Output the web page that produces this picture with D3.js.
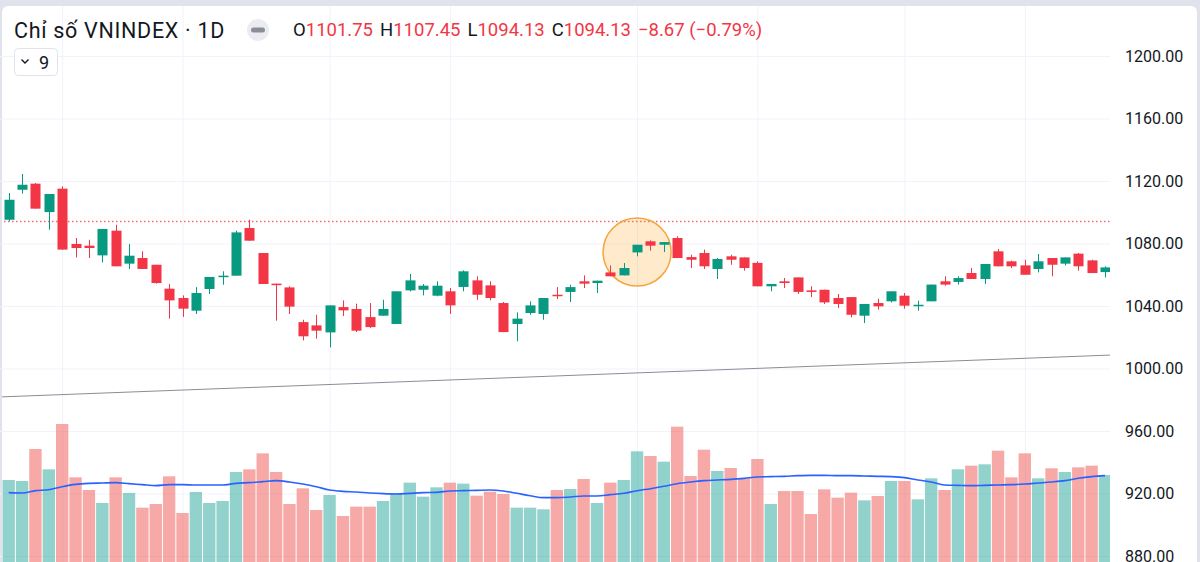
<!DOCTYPE html>
<html>
<head>
<meta charset="utf-8">
<script src="https://cdn.jsdelivr.net/npm/d3@7"></script>
<style>
  html, body { margin: 0; padding: 0; background: #e0e3eb; }
  #chart { width: 1200px; height: 562px; }
  svg text { font-family: Roboto, "Noto Sans", sans-serif; }
</style>
</head>
<body>
<div id="chart"></div>
<script>
// VNINDEX daily candles (price axis units)
const opens = [1095.2, 1114.4, 1118.3, 1100.1, 1115.1, 1079.7, 1078.6, 1072.4, 1088.2, 1067.1,
  1070.7, 1066.4, 1051.1, 1045.1, 1037.0, 1050.9, 1058.8, 1059.4, 1089.9, 1073.9,
  1054.3, 1051.9, 1029.7, 1027.6, 1023.1, 1039.3, 1038.1, 1032.9, 1033.8, 1028.5,
  1050.0, 1050.4, 1046.6, 1049.4, 1052.2, 1056.4, 1053.2, 1041.9, 1028.5, 1035.5,
  1034.9, 1047.2, 1049.0, 1055.8, 1054.7, 1061.5, 1059.6, 1074.3, 1081.4, 1079.2,
  1083.5, 1071.3, 1073.9, 1063.7, 1071.8, 1071.1, 1067.6, 1052.6, 1055.8, 1058.3,
  1050.0, 1050.4, 1045.1, 1045.7, 1033.8, 1041.9, 1043.0, 1046.6, 1040.2, 1043.0,
  1055.8, 1055.4, 1061.1, 1057.3, 1075.0, 1068.6, 1066.0, 1063.7, 1070.7, 1067.1,
  1073.5, 1069.2, 1061.7];
const highs = [1112.3, 1124.5, 1118.7, 1111.7, 1116.6, 1083.5, 1082.4, 1089.3, 1092.0, 1079.7,
  1075.0, 1066.4, 1054.1, 1046.8, 1052.1, 1058.6, 1062.2, 1088.2, 1095.2, 1073.9,
  1054.3, 1052.6, 1031.2, 1034.4, 1040.4, 1043.6, 1041.5, 1041.9, 1044.0, 1049.4,
  1060.5, 1054.1, 1055.8, 1051.5, 1062.8, 1059.0, 1055.8, 1042.6, 1035.9, 1043.0,
  1045.1, 1052.1, 1053.6, 1059.6, 1056.2, 1066.0, 1067.5, 1079.2, 1082.0, 1080.9,
  1084.6, 1072.8, 1076.1, 1070.7, 1072.8, 1071.1, 1068.6, 1054.1, 1057.9, 1058.3,
  1052.6, 1050.4, 1047.7, 1045.7, 1041.3, 1044.7, 1049.4, 1048.3, 1043.4, 1053.7,
  1059.0, 1059.0, 1064.3, 1066.9, 1076.5, 1069.0, 1069.6, 1073.3, 1070.7, 1071.1,
  1073.9, 1069.6, 1065.4];
const lows = [1094.2, 1111.9, 1102.3, 1088.8, 1076.1, 1071.1, 1070.7, 1067.9, 1065.4, 1063.7,
  1063.7, 1054.3, 1031.9, 1033.0, 1034.9, 1047.7, 1053.6, 1059.4, 1081.8, 1054.1,
  1030.6, 1034.9, 1018.0, 1019.1, 1013.5, 1033.6, 1023.3, 1026.0, 1033.8, 1028.5,
  1049.4, 1046.8, 1046.2, 1034.9, 1049.4, 1044.0, 1043.6, 1023.3, 1017.4, 1034.4,
  1031.2, 1044.5, 1042.6, 1051.5, 1048.3, 1059.0, 1059.6, 1071.8, 1075.4, 1074.5,
  1070.7, 1064.3, 1063.7, 1057.3, 1066.4, 1062.6, 1052.6, 1049.4, 1051.5, 1047.7,
  1045.7, 1041.3, 1038.7, 1032.7, 1029.1, 1037.7, 1042.3, 1038.3, 1037.0, 1043.0,
  1053.0, 1053.7, 1057.3, 1054.1, 1065.4, 1064.3, 1060.0, 1061.5, 1059.0, 1066.0,
  1062.6, 1061.1, 1058.3];
const closes = [1108.0, 1117.6, 1102.3, 1111.7, 1076.1, 1077.1, 1077.1, 1089.3, 1065.4, 1072.2,
  1063.7, 1054.7, 1043.6, 1038.3, 1048.3, 1058.6, 1059.4, 1087.1, 1081.8, 1054.1,
  1053.7, 1039.6, 1020.6, 1024.2, 1040.4, 1037.2, 1024.2, 1026.5, 1038.1, 1049.4,
  1056.4, 1053.0, 1053.0, 1040.4, 1062.2, 1047.2, 1045.1, 1023.3, 1031.9, 1040.4,
  1045.1, 1046.6, 1052.1, 1054.3, 1056.2, 1059.0, 1064.3, 1079.2, 1078.6, 1080.9,
  1070.7, 1069.6, 1065.4, 1070.1, 1069.6, 1064.3, 1052.6, 1054.1, 1054.7, 1049.0,
  1049.0, 1042.3, 1041.3, 1034.4, 1041.3, 1039.8, 1049.4, 1040.2, 1040.8, 1053.7,
  1053.7, 1057.9, 1057.3, 1066.9, 1065.4, 1065.4, 1060.0, 1068.6, 1066.4, 1071.1,
  1065.4, 1061.1, 1064.7];

// volume (million shares, estimated) and its moving average line
const volumes = [492, 486, 678, 556, 828, 508, 432, 354, 508, 414,
  326, 348, 514, 294, 420, 354, 366, 540, 556, 652,
  540, 348, 442, 312, 402, 276, 332, 332, 366, 412,
  476, 392, 448, 476, 470, 398, 422, 408, 326, 326,
  316, 432, 438, 498, 354, 476, 492, 664, 636, 602,
  812, 516, 674, 546, 564, 502, 618, 348, 426, 426,
  288, 436, 386, 416, 370, 396, 486, 486, 376, 502,
  432, 556, 578, 586, 668, 508, 652, 502, 562, 540,
  568, 578, 522];
const volumeMA = [416, 414, 428, 434, 452, 466, 472, 474, 476, 470,
  464, 458, 464, 464, 462, 462, 462, 472, 476, 482,
  488, 480, 468, 452, 432, 424, 420, 414, 410, 408,
  412, 416, 418, 426, 428, 430, 432, 426, 412, 398,
  386, 386, 390, 396, 396, 404, 412, 428, 440, 454,
  470, 480, 488, 492, 496, 502, 510, 512, 514, 518,
  520, 520, 518, 518, 516, 514, 512, 506, 492, 480,
  462, 460, 458, 460, 462, 464, 468, 474, 480, 488,
  502, 512, 518];

const priceTicks = [880, 920, 960, 1000, 1040, 1080, 1120, 1160, 1200];
const timeGridBars = [4, 13, 24, 33, 47, 56, 67, 76];
const lastPrice = 1094.13;
const trendLine = [{bar: -0.65, value: 981.8}, {bar: 82.4, value: 1008.6}];
const highlight = {bar: 47, value: 1074.5};

const title = "Chỉ số VNINDEX · 1D";
const legendItems = [["O", "1101.75"], ["H", "1107.45"], ["L", "1094.13"], ["C", "1094.13"]];
const legendChange = "−8.67 (−0.79%)";
const indicatorCount = "9";

class CandleChart {

  constructor() {
    this.width = 1200;
    this.height = 562;
    this.plotRight = 1110;
    this.plotTop = 6;
    this.upColor = "#089981";
    this.downColor = "#f23645";
    this.upVolColor = "rgba(38,166,154,0.5)";
    this.downVolColor = "rgba(239,83,80,0.5)";
    this.gridColor = "#f0f3fa";
    this.textColor = "#131722";

    this.svg = d3.select("#chart").append("svg")
      .attr("width", this.width).attr("height", this.height);

    //Scales
    this.xScale = d3.scaleLinear().domain([0, closes.length - 1]).range([8.7, 1105]);
    this.step = this.xScale(1) - this.xScale(0);
    this.priceScale = d3.scaleLinear().domain([880, 1200]).range([556, 56]);
    this.volumeScale = d3.scaleLinear().domain([0, 900]).range([562, 412]);

    this.data = closes.map((c, i) => ({
      i: i, open: opens[i], high: highs[i], low: lows[i], close: c,
      volume: volumes[i], ma: volumeMA[i], up: c >= opens[i]
    }));

    //white panel
    this.svg.append("rect")
      .attr("x", 2).attr("y", this.plotTop)
      .attr("width", 1195).attr("height", 620)
      .attr("rx", 6).attr("fill", "#ffffff");

    this.svg.append("clipPath").attr("id", "plotClip")
      .append("rect")
      .attr("x", 2).attr("y", this.plotTop)
      .attr("width", this.plotRight - 2).attr("height", this.height - this.plotTop);

    this.drawGrid();
    this.plot = this.svg.append("g").attr("clip-path", "url(#plotClip)");
    this.drawVolume();
    this.drawOverlays();
    this.drawCandles();
    this.drawLegend();
  }

  drawGrid() {
    //horizontal grid + price labels in one right axis
    let yAxis = d3.axisRight(this.priceScale)
      .tickValues(priceTicks)
      .tickFormat(d3.format(".2f"))
      .tickSize(-this.plotRight)
      .tickPadding(15);
    let yAxisGroup = this.svg.append("g")
      .attr("transform", `translate(${this.plotRight}, 0)`)
      .call(yAxis);
    yAxisGroup.select(".domain").remove();
    yAxisGroup.selectAll("line").attr("stroke", this.gridColor);
    yAxisGroup.selectAll("text")
      .attr("fill", this.textColor)
      .attr("font-size", 16);

    //vertical grid lines at the time axis ticks
    let xAxis = d3.axisBottom(this.xScale)
      .tickValues(timeGridBars)
      .tickFormat("")
      .tickSize(-(this.height - this.plotTop));
    let xAxisGroup = this.svg.append("g")
      .attr("transform", `translate(0, ${this.height})`)
      .call(xAxis);
    xAxisGroup.select(".domain").remove();
    xAxisGroup.selectAll("line").attr("stroke", this.gridColor);
  }

  drawVolume() {
    let barWidth = this.step - 1;
    this.plot.append("g").selectAll("rect")
      .data(this.data)
      .enter().append("rect")
      .attr("x", d => this.xScale(d.i) - barWidth / 2)
      .attr("y", d => this.volumeScale(d.volume))
      .attr("width", barWidth)
      .attr("height", d => this.volumeScale(0) - this.volumeScale(d.volume))
      .attr("fill", d => d.up ? this.upVolColor : this.downVolColor);

    let maLine = d3.line()
      .x(d => this.xScale(d.i))
      .y(d => this.volumeScale(d.ma))
      .curve(d3.curveMonotoneX);
    this.plot.append("path")
      .datum(this.data)
      .attr("d", maLine)
      .attr("fill", "none")
      .attr("stroke", "#2962ff")
      .attr("stroke-width", 1.6);
  }

  drawOverlays() {
    //trend line
    this.plot.append("line")
      .attr("x1", this.xScale(trendLine[0].bar))
      .attr("y1", this.priceScale(trendLine[0].value))
      .attr("x2", this.xScale(trendLine[1].bar))
      .attr("y2", this.priceScale(trendLine[1].value))
      .attr("stroke", "#8a8d96")
      .attr("stroke-width", 1);

    //last price dotted line
    let lastY = Math.round(this.priceScale(lastPrice)) + 0.5;
    this.plot.append("line")
      .attr("x1", 0).attr("x2", this.plotRight)
      .attr("y1", lastY).attr("y2", lastY)
      .attr("stroke", "#f23645")
      .attr("stroke-opacity", 0.75)
      .attr("stroke-width", 1.3)
      .attr("stroke-dasharray", "1.5,2.5");

    //highlight circle
    this.plot.append("circle")
      .attr("cx", this.xScale(highlight.bar))
      .attr("cy", this.priceScale(highlight.value))
      .attr("r", 34)
      .attr("fill", "rgba(255,152,0,0.2)")
      .attr("stroke", "#f5a43a")
      .attr("stroke-width", 1.5);
  }

  drawCandles() {
    let bodyWidth = this.step * 0.75;
    let candles = this.plot.append("g").selectAll("g")
      .data(this.data)
      .enter().append("g");

    candles.append("line")
      .attr("x1", d => Math.round(this.xScale(d.i)) + 0.5)
      .attr("x2", d => Math.round(this.xScale(d.i)) + 0.5)
      .attr("y1", d => this.priceScale(d.high))
      .attr("y2", d => this.priceScale(d.low))
      .attr("stroke", d => d.up ? this.upColor : this.downColor)
      .attr("stroke-width", 1);

    candles.append("rect")
      .attr("x", d => Math.round(this.xScale(d.i)) + 0.5 - bodyWidth / 2)
      .attr("y", d => this.priceScale(Math.max(d.open, d.close)))
      .attr("width", bodyWidth)
      .attr("height", d => Math.max(1.5, Math.abs(this.priceScale(d.open) - this.priceScale(d.close))))
      .attr("fill", d => d.up ? this.upColor : this.downColor);
  }

  drawLegend() {
    let g = this.svg.append("g");

    g.append("text")
      .attr("x", 14).attr("y", 30)
      .attr("dominant-baseline", "central")
      .attr("font-size", 21.5)
      .attr("letter-spacing", 0.7)
      .attr("fill", this.textColor)
      .text(title);

    //hide button
    g.append("circle")
      .attr("cx", 258).attr("cy", 30).attr("r", 11)
      .attr("fill", "#eaecf1");
    g.append("rect")
      .attr("x", 251).attr("y", 27.5)
      .attr("width", 14).attr("height", 5)
      .attr("rx", 2.5)
      .attr("fill", "#8b8e97");

    //OHLC values
    let ohlc = g.append("text")
      .attr("x", 293).attr("y", 30)
      .attr("dominant-baseline", "central")
      .attr("font-size", 18.5);
    legendItems.forEach((item, k) => {
      ohlc.append("tspan")
        .attr("dx", k === 0 ? 0 : 7)
        .attr("fill", this.textColor)
        .text(item[0]);
      ohlc.append("tspan")
        .attr("fill", this.downColor)
        .text(item[1]);
    });
    ohlc.append("tspan")
      .attr("dx", 7)
      .attr("fill", this.downColor)
      .text(legendChange);

    //indicator collapse box
    g.append("rect")
      .attr("x", 14.5).attr("y", 48.5)
      .attr("width", 43).attr("height", 27)
      .attr("rx", 4)
      .attr("fill", "#ffffff")
      .attr("stroke", "#e0e3eb");
    g.append("path")
      .attr("d", "M21.5,59.5 L25,63 L28.5,59.5")
      .attr("fill", "none")
      .attr("stroke", this.textColor)
      .attr("stroke-width", 1.4);
    g.append("text")
      .attr("x", 39).attr("y", 62)
      .attr("dominant-baseline", "central")
      .attr("font-size", 18)
      .attr("fill", this.textColor)
      .text(indicatorCount);
  }
}

new CandleChart();
</script>
</body>
</html>
